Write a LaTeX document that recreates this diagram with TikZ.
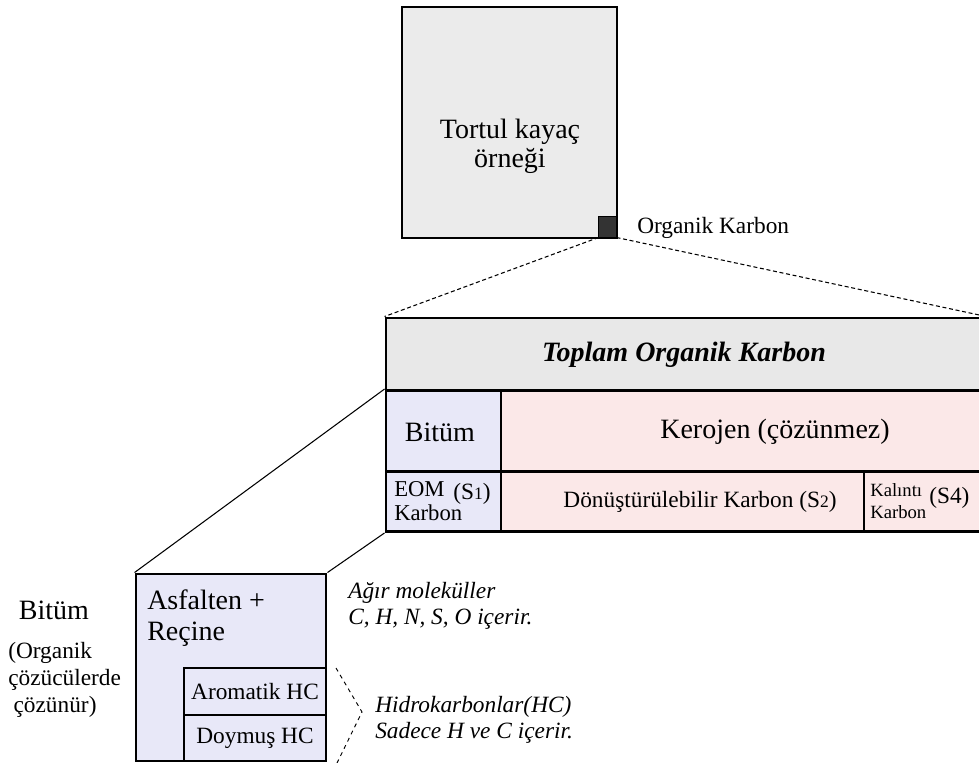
\documentclass[tikz,border=0pt]{standalone}
\usepackage{fontspec}
\setmainfont{Liberation Serif}

\definecolor{rockgray}{HTML}{EBEBEB}
\definecolor{headgray}{HTML}{E8E8E8}
\definecolor{bitblue}{HTML}{E8E8F8}
\definecolor{kerpink}{HTML}{FBE8E8}
\definecolor{tocdark}{HTML}{333333}

\newcommand{\sdig}[1]{\scalebox{0.75}{#1}}

\tikzset{
  cell/.style 2 args={draw, line width=2.2pt, inner sep=0pt,
    minimum width=0.75pt*#1, minimum height=0.75pt*#2},
  big/.style={font=\fontsize{21}{22}\selectfont},
  mid/.style={font=\fontsize{17.5}{20}\selectfont},
  small/.style={font=\fontsize{14}{17}\selectfont},
}

\begin{document}
\begin{tikzpicture}[x=0.75pt,y=-0.75pt]
\tikzstyle{every node}=[inner sep=0pt]
\clip (0,0) rectangle (979,763);

% rock sample
\node[cell={215}{231}, fill=rockgray] (rock) at (509.5,122.5) {};
\node[big, align=center] (rocktxt) at (510,146) {Tortul kayaç\\örneği};
\node[cell={18}{21}, line width=0pt, fill=tocdark] (toc) at (607.5,227) {};
\node[mid, anchor=west] (toclbl) at (637,228) {Organik Karbon};

% total organic carbon table
\node[cell={599}{72}, fill=headgray] (head) at (685.5,354) {};
\node[big, font=\fontsize{21}{22}\bfseries\itshape] (headtxt) at (684,355) {Toplam Organik Karbon};
\node[cell={115}{81}, fill=bitblue] (bit) at (443.5,431) {};
\node[big] (bittxt) at (440,432) {Bitüm};
\node[cell={484}{81}, fill=kerpink] (ker) at (743,431) {};
\node[big] (kertxt) at (775,432) {Kerojen (çözünmez)};
\node[cell={115}{60}, fill=bitblue] (eom) at (443.5,501.5) {};
\node[mid, anchor=west, align=left, font=\fontsize{17}{17.5}\selectfont] (eomtxt) at (394,501) {EOM\\Karbon};
\node[mid, anchor=west] (s1) at (453,494) {(S\sdig{1})};
\node[cell={363}{60}, fill=kerpink] (don) at (682.5,501.5) {};
\node[mid] (dontxt) at (700,502) {Dönüştürülebilir Karbon (S\sdig{2})};
\node[cell={121}{60}, fill=kerpink] (kal) at (924.5,501.5) {};
\node[small, anchor=west, align=left] (kaltxt) at (870,501) {Kalıntı\\Karbon};
\node[mid, anchor=west] (s4) at (929,498) {(S4)};

\draw[densely dashed, line width=0.8pt] (toc.south west) -- (head.north west);
\draw[densely dashed, line width=0.8pt] (toc.south east) -- (head.north east);

% bitumen detail
\node[cell={190}{187}, fill=bitblue] (asf) at (231,667.5) {};
\node[big, anchor=west, align=left, font=\fontsize{21}{23}\selectfont] (asftxt) at (147,618) {Asfalten +\\Reçine};
\node[cell={142}{47}, fill=bitblue, mid] (aro) at (255,691.5) {Aromatik HC};
\node[cell={142}{46}, fill=bitblue, mid] (doy) at (255,738) {Doymuş HC};

\draw[line width=0.8pt] (bit.north west) -- (asf.north west);
\draw[line width=0.8pt] (eom.south west) -- (asf.north east);

\node[big] (bitlbl) at (54,610) {Bitüm};
\node[mid, anchor=west, align=left] (sollbl) at (8,680) {(Organik\\çözücülerde\\\hspace{4pt}çözünür)};
\node[mid, anchor=west, align=left, font=\fontsize{17.5}{19}\itshape] (agir) at (348,606) {Ağır moleküller\\C, H, N, S, O içerir.};

\coordinate (brtop) at (336,668);
\coordinate (brtip) at (362,712);
\coordinate (brbot) at (337,763);
\draw[dashed, line width=0.7pt] (brtop) -- (brtip) -- (brbot);
\node[mid, anchor=west, align=left, font=\fontsize{17.5}{19.5}\itshape] (hidro) at (375,720) {Hidrokarbonlar(HC)\\Sadece H ve C içerir.};
\end{tikzpicture}
\end{document}
